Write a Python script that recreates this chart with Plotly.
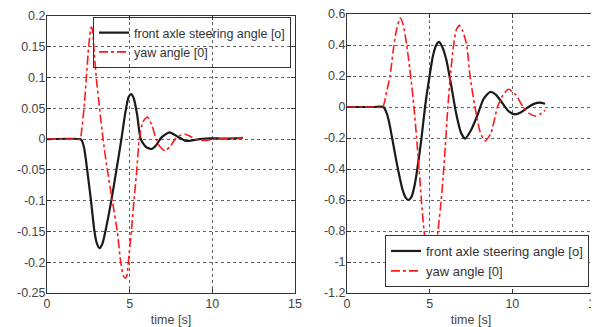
import plotly.graph_objects as go

# ---- left panel data ----
t_steer_l = [0, 2.0, 2.1, 2.25, 2.43, 2.66, 2.87, 3.0, 3.18, 3.35, 3.53, 3.89, 4.2, 4.5, 4.75, 4.93, 5.08, 5.25,
             5.45, 5.67, 6.0, 6.33, 6.6, 6.9, 7.4, 7.9, 8.4, 9.0, 9.6, 10.5, 11.2, 11.84]
v_steer_l = [0, 0, -0.002, -0.015, -0.05, -0.10, -0.15, -0.168, -0.177, -0.17, -0.15, -0.10, -0.05, 0.0, 0.045,
             0.068, 0.073, 0.066, 0.04, 0.0, -0.013, -0.016, -0.01, 0.002, 0.011, 0.004, -0.003, -0.001, 0.001,
             0.001, 0.001, 0.002]

t_yaw_l = [0, 1.5, 2.0, 2.1, 2.24, 2.38, 2.52, 2.62, 2.68, 2.75, 2.83, 2.98, 3.18, 3.39, 3.65, 3.95, 4.25, 4.46,
           4.62, 4.74, 4.83, 4.92, 5.1, 5.26, 5.43, 5.58, 5.8, 6.07, 6.35, 6.6, 6.85, 7.14, 7.45, 7.75, 8.05,
           8.35, 8.7, 9.1, 9.6, 10.2, 11.0, 11.84]
v_yaw_l = [0, 0, 0, 0.015, 0.05, 0.10, 0.15, 0.175, 0.182, 0.178, 0.15, 0.10, 0.05, 0.0, -0.05, -0.10, -0.15, -0.20,
           -0.222, -0.226, -0.222, -0.20, -0.15, -0.10, -0.05, 0.0, 0.028, 0.036, 0.022, 0.0, -0.013, -0.019,
           -0.012, 0.0, 0.006, 0.008, 0.004, -0.001, -0.002, 0.0, 0.001, 0.002]

# ---- right panel data ----
t_steer_r = [0, 1.6, 2.2, 2.4, 2.55, 2.73, 2.9, 3.08, 3.35, 3.55, 3.71, 3.9, 4.1, 4.28, 4.5, 4.72, 4.95, 5.2, 5.4,
             5.56, 5.75, 6.0, 6.3, 6.6, 6.9, 7.14, 7.5, 7.9, 8.25, 8.65, 9.0, 9.4, 9.8, 10.16, 10.5, 10.9,
             11.3, 11.67, 11.98]
v_steer_r = [0, 0, 0, -0.04, -0.10, -0.20, -0.30, -0.40, -0.53, -0.585, -0.60, -0.58, -0.50, -0.38, -0.206, 0.0,
             0.17, 0.33, 0.40, 0.42, 0.39, 0.308, 0.14, -0.04, -0.168, -0.204, -0.15, -0.05, 0.05, 0.097, 0.08,
             0.025, -0.03, -0.047, -0.035, -0.005, 0.02, 0.028, 0.021]

t_yaw_r = [0, 1.6, 2.15, 2.4, 2.6, 2.84, 3.0, 3.22, 3.4, 3.61, 3.85, 4.05, 4.21, 4.36, 4.5, 4.66, 4.85, 5.07, 5.3,
           5.5, 5.7, 5.85, 5.98, 6.1, 6.25, 6.45, 6.62, 6.8, 7.0, 7.24, 7.44, 7.74, 8.05, 8.35, 8.7, 9.1, 9.4,
           9.76, 10.2, 10.65, 11.0, 11.37, 11.7, 11.98]
v_yaw_r = [0, 0, 0, 0.1, 0.2, 0.4, 0.5, 0.575, 0.53, 0.4, 0.2, 0.0, -0.2, -0.4, -0.6, -0.8, -0.95, -1.02, -0.95,
           -0.8, -0.6, -0.4, -0.2, 0.0, 0.2, 0.4, 0.5, 0.527, 0.49, 0.4, 0.2, 0.0, -0.16, -0.219, -0.17, 0.0,
           0.07, 0.114, 0.08, 0.0, -0.04, -0.058, -0.045, -0.021]

name_steer = "front axle steering angle [o]"
name_yaw = "yaw angle [0]"
x_ticks = [0, 5, 10, 15]
y_ticks_l = [0.2, 0.15, 0.1, 0.05, 0, -0.05, -0.1, -0.15, -0.2, -0.25]
y_ticks_r = [0.6, 0.4, 0.2, 0, -0.2, -0.4, -0.6, -0.8, -1, -1.2]

BLACK = "#1a1a1a"
RED = "#ff1a1a"
SM = 0.6

fig = go.Figure()
fig.add_trace(go.Scatter(x=t_steer_l, y=v_steer_l, name=name_steer, mode="lines",
                         line=dict(color=BLACK, width=2.2, shape="spline", smoothing=SM),
                         xaxis="x", yaxis="y", legend="legend"))
fig.add_trace(go.Scatter(x=t_yaw_l, y=v_yaw_l, name=name_yaw, mode="lines",
                         line=dict(color=RED, width=1.6, dash="dashdot", shape="spline", smoothing=SM),
                         xaxis="x", yaxis="y", legend="legend"))
fig.add_trace(go.Scatter(x=t_steer_r, y=v_steer_r, name=name_steer, mode="lines",
                         line=dict(color=BLACK, width=2.2, shape="spline", smoothing=SM),
                         xaxis="x2", yaxis="y2", legend="legend2"))
fig.add_trace(go.Scatter(x=t_yaw_r, y=v_yaw_r, name=name_yaw, mode="lines",
                         line=dict(color=RED, width=1.6, dash="dashdot", shape="spline", smoothing=SM),
                         xaxis="x2", yaxis="y2", legend="legend2"))

# page has an 8px body margin: work in page pixels and convert
OFF = 8
W, H = 599 - OFF, 327 - OFF


def dx(p):
    return (p - OFF) / W


def dy(p):
    return 1 - (p - OFF) / H


FONT = "Liberation Sans, Arial"
tickfont = dict(family=FONT, size=12.5, color="#444444")
common_axis = dict(showline=True, linecolor="#333333", linewidth=1, mirror="ticks", ticks="inside",
                   ticklen=4, tickcolor="#333333", showgrid=True, gridcolor="#666666", griddash="dot",
                   gridwidth=1, zeroline=False, tickfont=tickfont, automargin=False,
                   ticklabeloverflow="allow")
xtitle = dict(text="time [s]", font=dict(family=FONT, size=12.5, color="#444444"), standoff=8)

fig.update_layout(
    width=W, height=H, margin=dict(l=0, r=0, t=0, b=0),
    paper_bgcolor="white", plot_bgcolor="white",
    xaxis=dict(domain=[dx(47), dx(295)], range=[0, 15], tickvals=x_ticks, anchor="y",
               title=xtitle, ticklabelstandoff=-1, **common_axis),
    yaxis=dict(domain=[dy(293), dy(16)], range=[-0.25, 0.2], tickvals=y_ticks_l,
               ticktext=[str(v) for v in y_ticks_l], anchor="x", ticklabelstandoff=-2, **common_axis),
    xaxis2=dict(domain=[dx(347), dx(595)], range=[0, 15], tickvals=x_ticks, anchor="y2",
                title=xtitle, ticklabelstandoff=-1, **common_axis),
    yaxis2=dict(domain=[dy(293), dy(14)], range=[-1.2, 0.6], tickvals=y_ticks_r,
                ticktext=[str(v) for v in y_ticks_r], anchor="x2", ticklabelstandoff=-2, **common_axis),
    legend=dict(x=dx(93), y=dy(17), xanchor="left", yanchor="top", bgcolor="rgba(255,255,255,0)",
                bordercolor="#333333", borderwidth=1, tracegroupgap=0,
                font=dict(family=FONT, size=12.5, color="#333333")),
    legend2=dict(x=dx(385), y=dy(287), xanchor="left", yanchor="bottom", bgcolor="white",
                 bordercolor="#333333", borderwidth=1, tracegroupgap=0,
                 font=dict(family=FONT, size=13, color="#333333")),
    showlegend=True,
)

fig.write_html("out.html")
